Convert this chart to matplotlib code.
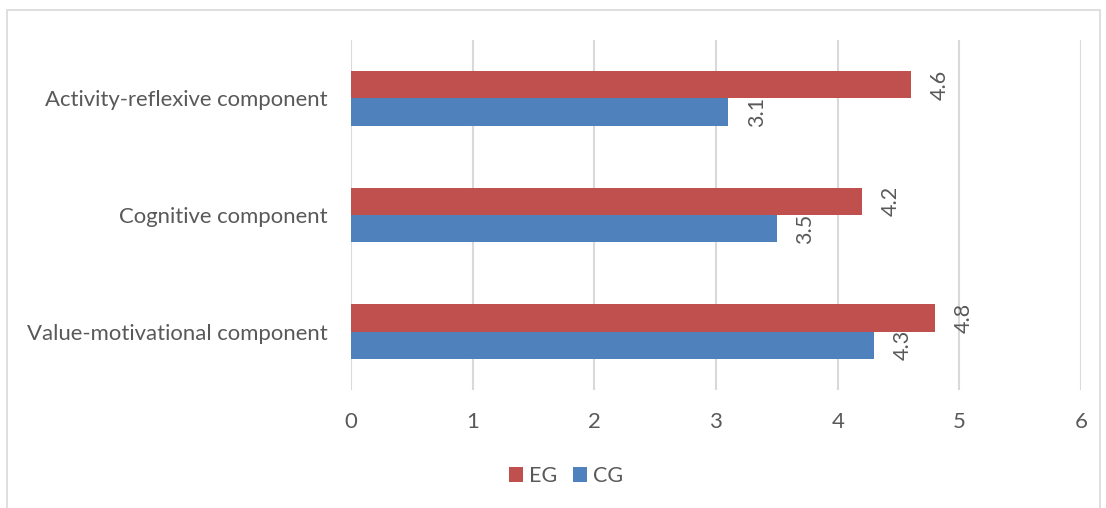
import matplotlib
matplotlib.use("Agg")
import matplotlib.pyplot as plt
from matplotlib.patches import Rectangle
import numpy as np

categories = ["Value-motivational component", "Cognitive component", "Activity-reflexive component"]
eg_values = [4.8, 4.2, 4.6]
cg_values = [4.3, 3.5, 3.1]
series_names = ["EG", "CG"]
xticks = [0, 1, 2, 3, 4, 5, 6]

EG_COLOR = "#C0504D"
CG_COLOR = "#4F81BD"
TEXT = "#595959"
GRID = "#D9D9D9"
FS = 15.9

plt.rcParams['font.family'] = ['Lato', 'DejaVu Sans']

fig = plt.figure(figsize=(11.06, 5.08), dpi=100)
ax = fig.add_axes([351/1106, 1 - 390/508, (1081 - 351)/1106, 350/508])

y = np.arange(len(categories))
h = 0.235
b_eg = ax.barh(y + h/2, eg_values, height=h, color=EG_COLOR, label=series_names[0], zorder=3)
b_cg = ax.barh(y - h/2, cg_values, height=h, color=CG_COLOR, label=series_names[1], zorder=3)

for bars, vals in ((b_eg, eg_values), (b_cg, cg_values)):
    for rect, v in zip(bars, vals):
        ax.annotate(f"{v:g}", xy=(v, rect.get_y() + rect.get_height()/2),
                    xytext=(13.5, 0), textcoords="offset points",
                    rotation=90, ha="left", va="center", fontsize=15.5, color=TEXT)

ax.set_xlim(0, 6)
ax.set_ylim(-0.5, 2.5)
ax.set_xticks(xticks)
ax.set_xticklabels([str(t) for t in xticks])
ax.set_yticks(y)
ax.set_yticklabels(categories)
ax.tick_params(axis="both", length=0, labelsize=FS, colors=TEXT)
ax.tick_params(axis="x", pad=16)
ax.tick_params(axis="y", pad=17)
ax.grid(axis="x", color=GRID, linewidth=1.5, zorder=0)
for s in ax.spines.values():
    s.set_visible(False)

handles = [b_eg, b_cg]
fig.legend(handles, series_names, loc="center", bbox_to_anchor=(566/1106, 1 - 476/508),
           ncol=2, frameon=False, fontsize=15.5, labelcolor=TEXT,
           handlelength=0.65, handleheight=0.65, handletextpad=0.28, columnspacing=0.75)

fig.patches.append(Rectangle((7/1106, -0.05), (1100 - 7)/1106, 1.05 - 10/508,
                             transform=fig.transFigure, fill=False,
                             edgecolor="#D9D9D9", linewidth=1.2))

fig.savefig("out.png", dpi=100)
